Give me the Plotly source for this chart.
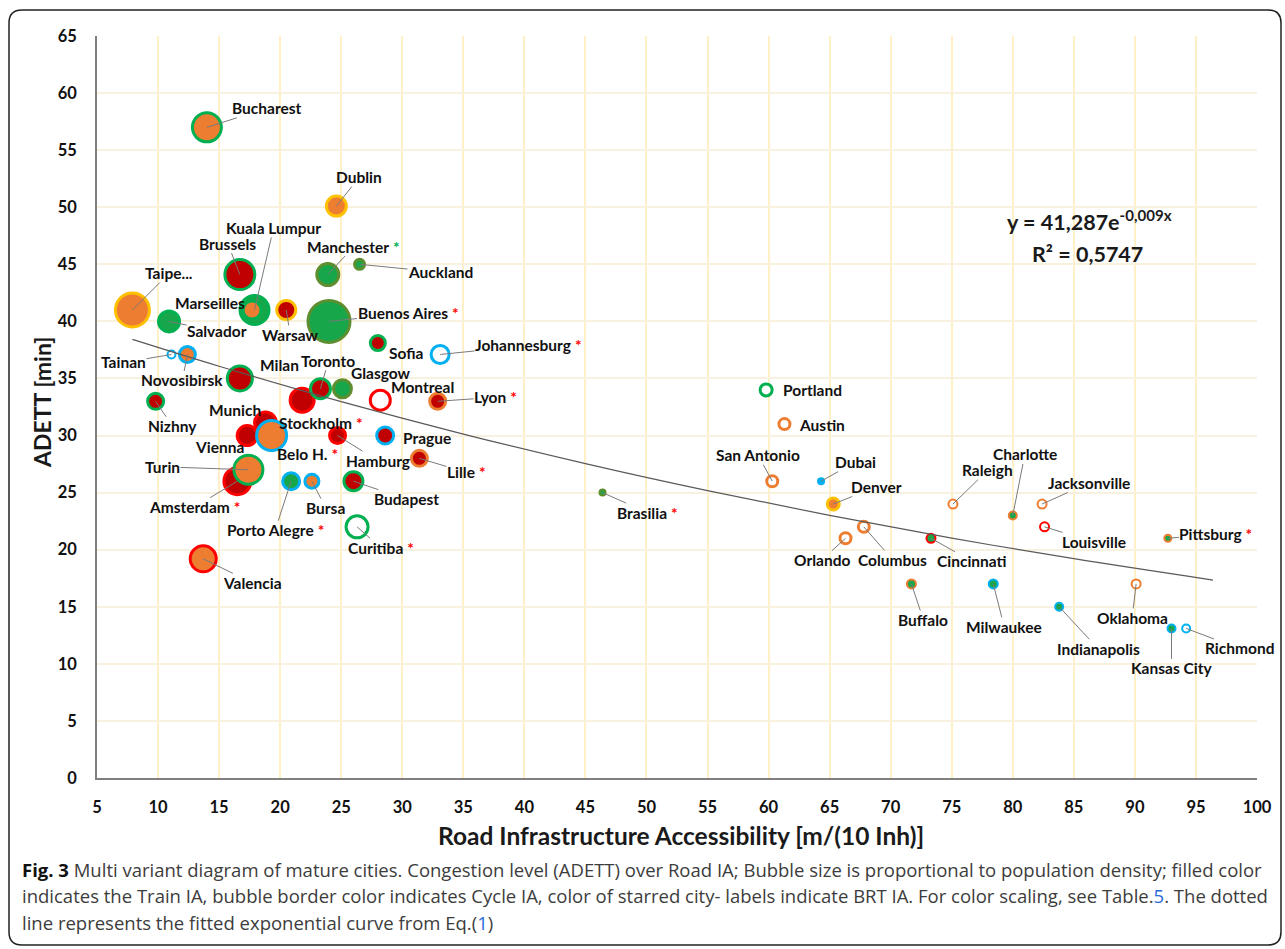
import plotly.graph_objects as go

# ---------------- data ----------------
cities = ["Buenos Aires", "Kuala Lumpur", "Taipe...", "Bucharest", "Brussels", "Marseilles",
          "Warsaw", "Dublin", "Manchester", "Auckland", "Salvador", "Sofia", "Johannesburg",
          "Tainan", "Novosibirsk", "Milan", "(unlabeled)", "Toronto", "Glasgow", "Montreal",
          "Lyon", "Nizhny", "Amsterdam", "Munich", "Vienna", "Stockholm", "Turin", "Hamburg",
          "Prague", "Lille", "Porto Alegre", "Bursa", "Budapest", "Curitiba", "Valencia",
          "Brasilia", "Portland", "Austin", "San Antonio", "Dubai", "Denver", "Orlando",
          "Columbus", "Cincinnati", "Raleigh", "Charlotte", "Jacksonville", "Louisville",
          "Pittsburg", "Buffalo", "Milwaukee", "Indianapolis", "Oklahoma", "Kansas City",
          "Richmond"]

road_ia = [24.0, 17.9, 7.9, 14.0, 16.7, 17.7,
           20.5, 24.6, 23.9, 26.5, 10.9, 28.0, 33.1,
           11.1, 12.4, 16.7, 21.8, 23.3, 25.1, 28.2,
           32.9, 9.8, 16.5, 18.8, 17.3, 19.3, 17.4, 24.7,
           28.6, 31.4, 20.9, 22.6, 26.0, 26.3, 13.7,
           46.4, 59.8, 61.3, 60.3, 64.3, 65.3, 66.3,
           67.8, 73.3, 75.1, 80.0, 82.4, 82.6,
           92.7, 71.7, 78.4, 83.8, 90.1, 93.0,
           94.2]

adett = [40.0, 41.0, 41.0, 57.0, 44.1, 41.0,
         41.0, 50.1, 44.1, 45.0, 40.0, 38.1, 37.1,
         37.1, 37.1, 35.0, 33.1, 34.1, 34.1, 33.1,
         33.0, 33.0, 26.0, 31.1, 30.0, 30.0, 27.0, 30.0,
         30.0, 28.0, 26.0, 26.0, 26.0, 22.0, 19.2,
         25.0, 34.0, 31.0, 26.0, 26.0, 24.0, 21.0,
         22.0, 21.0, 24.0, 23.0, 24.0, 22.0,
         21.0, 17.0, 17.0, 15.0, 17.0, 13.1,
         13.1]

# bubble size (proportional to population density)
pop_density = [45, 32, 37, 32, 33, 21,
               22, 23, 25, 13, 24, 18, 21,
               10, 19, 28, 27, 23, 21, 23,
               19, 19, 30, 25, 23, 33, 32, 19,
               20, 19, 20, 17, 22, 25, 29,
               8, 15, 14, 14, 8, 15, 14,
               14, 11, 11, 10, 11, 11,
               9, 11, 11, 10, 11, 10,
               10]

# Train IA class (fill): 0 none, 1 orange, 2 dark red, 3 green, 4 blue
train_ia = [3, 3, 1, 1, 2, 1,
            2, 1, 3, 3, 3, 2, 0,
            0, 1, 2, 2, 2, 3, 0,
            2, 2, 2, 2, 2, 1, 1, 2,
            2, 2, 3, 1, 2, 0, 1,
            3, 0, 0, 0, 4, 1, 0,
            0, 3, 0, 3, 0, 0,
            3, 3, 3, 3, 0, 3,
            0]

# Cycle IA class (border): 1 red, 2 orange, 3 gold, 4 green, 5 olive, 6 blue
cycle_ia = [5, 4, 3, 4, 4, 4,
            3, 3, 5, 5, 4, 4, 6,
            6, 6, 4, 1, 4, 5, 1,
            2, 4, 1, 1, 1, 6, 4, 1,
            6, 2, 6, 6, 4, 4, 1,
            5, 4, 2, 2, 6, 3, 2,
            2, 1, 2, 2, 2, 1,
            2, 2, 6, 6, 2, 6,
            6]

# BRT IA class (star on label): 0 none, 1 red, 2 green
brt_ia = [1, 0, 0, 0, 0, 0,
          0, 0, 2, 0, 0, 0, 1,
          0, 0, 0, 0, 0, 0, 0,
          1, 0, 1, 0, 0, 1, 0, 0,
          0, 1, 1, 0, 0, 1, 0,
          1, 0, 0, 0, 0, 0, 0,
          0, 0, 0, 0, 0, 0,
          1, 0, 0, 0, 0, 0,
          0]

# fitted curve points (y = 41,287e^-0,009x)
trend_x = [7.9, 15, 25, 35, 45, 55, 65, 75, 85, 96.4]
trend_y = [38.42, 36.07, 32.97, 30.13, 27.54, 25.17, 23.00, 21.02, 19.21, 17.34]

x_ticks = list(range(5, 101, 5))
y_ticks = list(range(0, 66, 5))

# ---------------- styles ----------------
FILL = {0: "#FFFFFF", 1: "#ED7D31", 2: "#C00000", 3: "#18A64A", 4: "#00B0F0"}
BORDER = {1: "#FF0000", 2: "#ED7D31", 3: "#FFC000", 4: "#00B050", 5: "#5E8E2F", 6: "#00B0F0"}
STAR = {1: "#FF0000", 2: "#00B050"}

# label offsets (pixels, text centre relative to bubble) and whether a leader line is drawn
label_pos = {
    "Buenos Aires": (79, -8, True), "Kuala Lumpur": (19, -82, True), "Taipe...": (37, -37, True),
    "Bucharest": (60, -19, True), "Brussels": (-12, -31, True), "Marseilles": (-42, -7, False),
    "Warsaw": (4, 25, True), "Dublin": (23, -29, True), "Manchester": (26, -28, True),
    "Auckland": (81, 8, True), "Salvador": (48, 10, True), "Sofia": (28, 10, False),
    "Johannesburg": (88, -9, True), "Tainan": (-48, 8, True), "Novosibirsk": (-5, 26, True),
    "Milan": (40, -13, False), "Toronto": (8, -28, True), "Glasgow": (39, -16, False),
    "Montreal": (42, -13, False), "Lyon": (58, -4, True), "Nizhny": (17, 25, True),
    "Amsterdam": (-43, 26, True), "Munich": (-31, -13, False), "Vienna": (-28, 11, False),
    "Stockholm": (49, -13, False), "Turin": (-86, -3, True), "Hamburg": (40, 25, True),
    "Prague": (42, 2, False), "Lille": (47, 14, True), "Porto Alegre": (-16, 49, True),
    "Bursa": (14, 27, True), "Budapest": (53, 18, True), "Curitiba": (24, 21, True),
    "Valencia": (49, 24, True), "Brasilia": (45, 20, True), "Portland": (46, 0, False),
    "Austin": (38, 1, False), "San Antonio": (-14, -26, True), "Dubai": (34, -19, True),
    "Denver": (43, -17, True), "Orlando": (-24, 22, True), "Columbus": (29, 33, True),
    "Cincinnati": (41, 23, True), "Raleigh": (35, -34, True), "Charlotte": (12, -61, True),
    "Jacksonville": (47, -21, True), "Louisville": (49, 15, True), "Pittsburg": (48, -4, True),
    "Buffalo": (12, 36, True), "Milwaukee": (11, 43, True), "Indianapolis": (39, 42, True),
    "Oklahoma": (-4, 34, True), "Kansas City": (0, 40, True), "Richmond": (53, 20, True),
}

W, H = 1285, 949
L, R, T, B = 97, 1257, 36, 778
PW, PH = R - L, B - T


def px(xp):
    return (xp - L) / PW


def py(yp):
    return (B - yp) / PH


LABEL_FONT = dict(family="Lato", size=15.5, color="#111111")
TICK_FONT = dict(family="Lato", size=16.5, color="#111111", weight="bold")

line_w = [3 if s >= 13 else 2 for s in pop_density]
sizes = [s - w for s, w in zip(pop_density, line_w)]

fig = go.Figure()
fig.add_trace(go.Scatter(
    x=road_ia, y=adett, mode="markers", hoverinfo="text", text=cities,
    marker=dict(size=sizes, sizemode="diameter", color=[FILL[c] for c in train_ia],
                line=dict(color=[BORDER[c] for c in cycle_ia], width=line_w), opacity=1),
    showlegend=False, cliponaxis=False))

fig.add_trace(go.Scatter(
    x=trend_x, y=trend_y, mode="lines", line=dict(color="#5a5a5a", width=1.2, shape="spline"),
    hoverinfo="skip", showlegend=False))

annotations = []
for name, xv, yv, star in zip(cities, road_ia, adett, brt_ia):
    if name not in label_pos:
        continue
    ax, ay, lead = label_pos[name]
    txt = "<b>" + name + "</b>"
    if star:
        txt += " <b><span style='color:%s'>*</span></b>" % STAR[star]
    annotations.append(dict(
        x=xv, y=yv, xref="x", yref="y", text=txt, font=LABEL_FONT,
        showarrow=True, ax=ax, ay=ay, arrowhead=0, arrowwidth=1, standoff=0,
        xanchor="center", yanchor="middle",
        arrowcolor="#7a7a7a" if lead else "rgba(0,0,0,0)", borderpad=0))

# Belo H. label (bubble hidden in the cluster)
annotations.append(dict(x=22.2, y=28.4, xref="x", yref="y", xanchor="center", yanchor="middle",
                        text="<b>Belo H.</b> <b><span style='color:#FF0000'>*</span></b>",
                        font=LABEL_FONT, showarrow=False))

# equation
EQ_FONT = dict(family="Lato", size=21.5, color="#1a1a1a")
annotations.append(dict(x=px(1089), y=py(221), xref="paper", yref="paper", showarrow=False,
                        xanchor="center", yanchor="middle",
                        text="<b>y = 41,287e<sup>-0,009x</sup></b>", font=EQ_FONT))
annotations.append(dict(x=px(1087), y=py(254), xref="paper", yref="paper", showarrow=False,
                        xanchor="center", yanchor="middle",
                        text="<b>R² = 0,5747</b>", font=EQ_FONT))

# axis titles
annotations.append(dict(x=px(681), y=py(836), xref="paper", yref="paper", showarrow=False,
                        xanchor="center", yanchor="middle",
                        text="<b>Road Infrastructure Accessibility [m/(10 Inh)]</b>",
                        font=dict(family="Lato", size=24.5, color="#1a1a1a")))
annotations.append(dict(x=px(42), y=py(403), xref="paper", yref="paper", showarrow=False,
                        xanchor="center", yanchor="middle",
                        textangle=-90, text="<b>ADETT [min]</b>",
                        font=dict(family="Lato", size=23, color="#1a1a1a")))

# caption
CAP_FONT = dict(family="Open Sans", size=18.5, color="#3c3c3c")
cap_lines = [
    "<b><span style='color:#111'>Fig. 3</span></b> Multi variant diagram of mature cities. Congestion level (ADETT) over Road IA; Bubble size is proportional to population density; filled color",
    "indicates the Train IA, bubble border color indicates Cycle IA, color of starred city- labels indicate BRT IA. For color scaling, see Table.<span style='color:#2a6ad8'>5</span>. The dotted",
    "line represents the fitted exponential curve from Eq.(<span style='color:#2a6ad8'>1</span>)",
]
for i, t in enumerate(cap_lines):
    annotations.append(dict(x=px(20), y=py(869 + 26.5 * i), xref="paper", yref="paper",
                            xanchor="left", yanchor="middle", showarrow=False, text=t,
                            font=CAP_FONT))

# rounded outer frame
x0, x1, y0, y1, r = 9, 1281, 10, 945, 13
rx, ry = r / PW, r / PH
X0, X1, Y0, Y1 = px(x0), px(x1), py(y0), py(y1)
path = (f"M {X0+rx},{Y0} L {X1-rx},{Y0} Q {X1},{Y0} {X1},{Y0-ry} "
        f"L {X1},{Y1+ry} Q {X1},{Y1} {X1-rx},{Y1} L {X0+rx},{Y1} Q {X0},{Y1} {X0},{Y1+ry} "
        f"L {X0},{Y0-ry} Q {X0},{Y0} {X0+rx},{Y0} Z")

fig.update_layout(
    width=W, height=H,
    margin=dict(l=L, r=W - R, t=T, b=H - B),
    paper_bgcolor="white", plot_bgcolor="white",
    annotations=annotations,
    shapes=[dict(type="path", path=path, xref="paper", yref="paper",
                 line=dict(color="#222222", width=1.5), layer="above")],
    xaxis=dict(range=[5, 100], tickvals=x_ticks, ticktext=[str(v) for v in x_ticks],
               showgrid=True, gridcolor="#FFF0C8", gridwidth=1.5, zeroline=False,
               showline=True, linecolor="#7f7f7f", linewidth=1.5,
               ticks="outside", ticklen=13, tickcolor="rgba(0,0,0,0)",
               tickfont=TICK_FONT),
    yaxis=dict(range=[0, 65], tickvals=y_ticks, ticktext=[str(v) for v in y_ticks],
               showgrid=True, gridcolor="#F7F1DE", gridwidth=2, zeroline=False,
               showline=True, linecolor="#7f7f7f", linewidth=1.5,
               ticks="outside", ticklen=15, tickcolor="rgba(0,0,0,0)",
               tickfont=TICK_FONT),
)

fig.write_html("out.html")
